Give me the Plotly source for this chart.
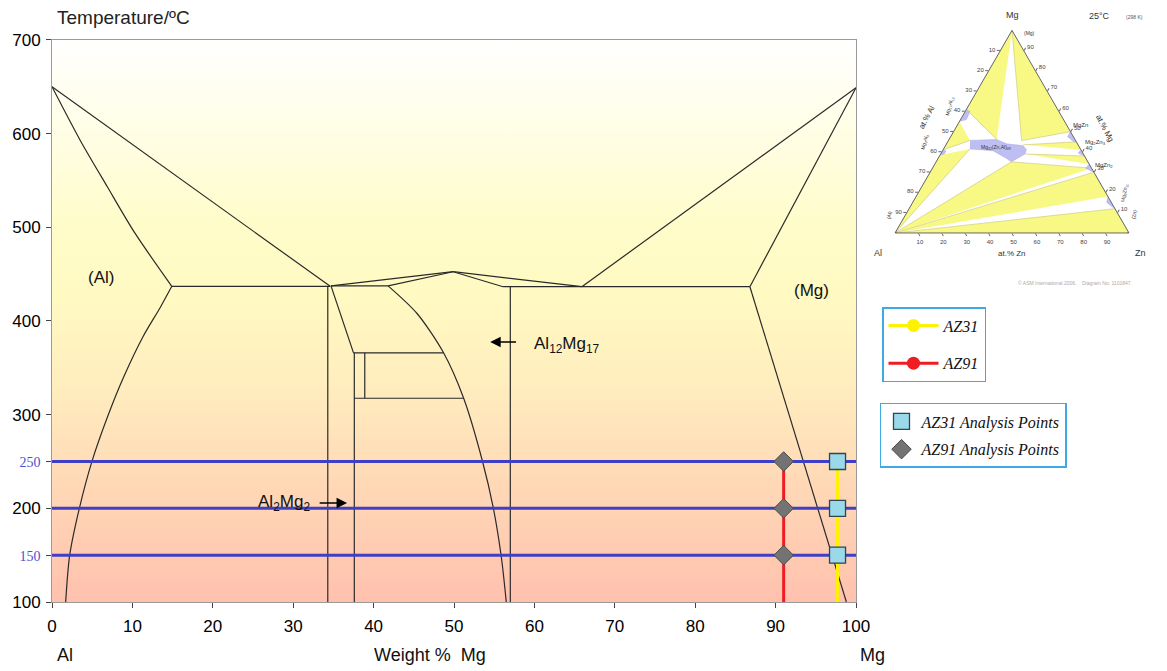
import plotly.graph_objects as go

# ---------------- main Al-Mg phase diagram data ----------------
x_range = [0, 100]
T_range = [100, 700]
x_ticks = [0, 10, 20, 30, 40, 50, 60, 70, 80, 90, 100]
T_ticks = [100, 150, 200, 250, 300, 400, 500, 600, 700]

liq_left_x = [0, 34.6]
liq_left_T = [650, 437]
sol_left_x = [0, 3.5, 6.9, 10.3, 14.9]
sol_left_T = [650, 593, 543, 494, 437]
solv_left_x = [14.9, 13.5, 11.3, 8.9, 7.05, 5.0, 3.4, 2.2, 1.7]
solv_left_T = [437, 415, 383, 340, 301, 251, 200, 150, 100]
eut_left_x = [14.9, 34.6]
eut_left_T = [437, 437]
beta_left_vert_x = [34.3, 34.3]
beta_left_vert_T = [437, 100]
beta_slope_x = [34.7, 37.5]
beta_slope_T = [437.5, 366]
beta_right_vert_x = [37.6, 37.6]
beta_right_vert_T = [366, 100]
iso366_x = [37.5, 48.7]
iso366_T = [366, 366]
inner_vert_x = [38.9, 38.9]
inner_vert_T = [366, 317.5]
iso318_x = [37.6, 51.2]
iso318_T = [317.5, 317.5]
perit_x = [34.7, 41.8]
perit_T = [437.5, 437.5]
liq_peak_a_x = [34.7, 49.9]
liq_peak_a_T = [437.5, 452.6]
liq_peak_b_x = [41.8, 49.9]
liq_peak_b_T = [437.5, 452.6]
gam_sol_x = [49.9, 56.1]
gam_sol_T = [452.6, 436.6]
liq_mid_x = [49.9, 65.9]
liq_mid_T = [452.6, 436.6]
gam_vert_x = [57.0, 57.0]
gam_vert_T = [436.6, 100]
eut_right_x = [56.1, 86.8]
eut_right_T = [436.6, 436.6]
gam_solv_x = [41.8, 45.4, 48.7, 51.2, 53.5, 54.9, 55.9, 56.5]
gam_solv_T = [437.5, 408, 366, 317.5, 251.6, 200, 147, 100]
liq_right_x = [65.9, 100]
liq_right_T = [436.6, 649]
sol_right_x = [86.8, 100]
sol_right_T = [436.6, 649]
solv_right_x = [86.8, 98.8]
solv_right_T = [436.6, 100]

straight_lines = [
    (liq_left_x, liq_left_T), (eut_left_x, eut_left_T), (beta_left_vert_x, beta_left_vert_T),
    (beta_slope_x, beta_slope_T), (beta_right_vert_x, beta_right_vert_T),
    (iso366_x, iso366_T), (inner_vert_x, inner_vert_T), (iso318_x, iso318_T),
    (perit_x, perit_T), (liq_peak_a_x, liq_peak_a_T), (liq_peak_b_x, liq_peak_b_T),
    (gam_sol_x, gam_sol_T), (liq_mid_x, liq_mid_T), (gam_vert_x, gam_vert_T),
    (eut_right_x, eut_right_T), (liq_right_x, liq_right_T), (sol_right_x, sol_right_T),
    (solv_right_x, solv_right_T),
]
curved_lines = [(sol_left_x, sol_left_T), (solv_left_x, solv_left_T), (gam_solv_x, gam_solv_T)]

isotherm_T = [150, 200, 250]
alloy_T = [100, 250]
analysis_T = [150, 200, 250]
az91_mg = 91.0
az31_mg = 97.7

# ---------------- ternary Al-Mg-Zn (25 C) data: (Mg, Al, Zn) at.% ----------------
yellow_regions = [
    [(100, 0, 0), (61, 39, 0), (46.2, 33.5, 20.3)],
    [(100, 0, 0), (45.6, 23.1, 31.3), (50, 0, 50)],
    [(43.5, 23.5, 33.0), (45, 0, 55), (41, 0, 59)],
    [(39.0, 25.0, 36.0), (38, 0, 62), (34, 0, 66)],
    [(0, 100, 0), (35.1, 32.7, 32.2), (32, 0, 68)],
    [(0, 100, 0), (30, 0, 70), (18, 0, 82)],
    [(0, 100, 0), (12, 0, 88), (0, 0, 100)],
    [(55, 45, 0), (41, 59, 0), (45.7, 45.1, 9.2)],
    [(38.5, 61.5, 0), (0, 100, 0), (41.5, 47.2, 11.3)],
]
phase_regions = [
    [(45.7, 45.1, 9.2), (46.2, 33.5, 20.3), (44.0, 30.3, 25.7), (43.1, 23.7, 33.2),
     (41.1, 23.3, 35.6), (39.0, 25.0, 36.0), (35.1, 32.7, 32.2), (36.8, 33.9, 29.3),
     (40.6, 37.8, 21.6), (41.5, 47.2, 11.3)],
    [(61, 39, 0), (60, 38, 2), (56, 41.5, 2.5), (55, 45, 0)],
    [(41, 59, 0), (40.5, 58, 1.5), (39, 59.5, 1.5), (38.5, 61.5, 0)],
    [(50, 0, 50), (47.5, 2.5, 50), (45, 1, 54), (45, 0, 55)],
    [(41, 0, 59), (39.5, 2, 58.5), (38, 0, 62)],
    [(34, 0, 66), (32, 2.5, 65.5), (30, 0, 70)],
    [(18, 0, 82), (15, 2, 83), (12, 0, 88)],
]
vertex_mg = [100, 0, 0]
vertex_al = [0, 100, 0]
vertex_zn = [0, 0, 100]
tern_ticks = [10, 20, 30, 40, 50, 60, 70, 80, 90]

# ---------------- figure ----------------
fig = go.Figure()

# plot-area gradient background
fig.add_trace(go.Scatter(
    x=[x_range[0], x_range[1], x_range[1], x_range[0], x_range[0]],
    y=[T_range[0], T_range[0], T_range[1], T_range[1], T_range[0]],
    mode='lines', line=dict(width=0), fill='toself', hoverinfo='skip', showlegend=False,
    fillgradient=dict(type='vertical', colorscale=[
        [0.0, '#FFC1AE'], [0.1, '#FFCCB2'], [0.25, '#FFDDB8'], [0.38, '#FFEDBE'],
        [0.55, '#FFFAC2'], [0.67, '#FFFCCA'], [0.83, '#FFFEE4'], [1.0, '#FFFFFF']])))

for lx, lT in straight_lines:
    fig.add_trace(go.Scatter(x=lx, y=lT, mode='lines', line=dict(color='#2a2a2a', width=1.2),
                             showlegend=False, hoverinfo='skip'))
for lx, lT in curved_lines:
    fig.add_trace(go.Scatter(x=lx, y=lT, mode='lines',
                             line=dict(color='#2a2a2a', width=1.2, shape='spline', smoothing=0.8),
                             showlegend=False, hoverinfo='skip'))

for T in isotherm_T:
    fig.add_trace(go.Scatter(x=x_range, y=[T, T], mode='lines', line=dict(color='#3F3FC6', width=3),
                             showlegend=False, hoverinfo='skip'))

fig.add_trace(go.Scatter(x=[az91_mg, az91_mg], y=alloy_T, mode='lines',
                         line=dict(color='#F01C24', width=3), showlegend=False))
fig.add_trace(go.Scatter(x=[az31_mg, az31_mg], y=alloy_T, mode='lines',
                         line=dict(color='#FFF200', width=3), showlegend=False))

fig.add_trace(go.Scatter(x=[az91_mg] * len(analysis_T), y=analysis_T, mode='markers',
                         marker=dict(symbol='diamond', size=15, color='#737373',
                                     line=dict(color='#4a4a4a', width=1)), showlegend=False))
fig.add_trace(go.Scatter(x=[az31_mg] * len(analysis_T), y=analysis_T, mode='markers',
                         marker=dict(symbol='square', size=16, color='#99D9EA',
                                     line=dict(color='#2d4650', width=1.3)), showlegend=False))

# legend entries
fig.add_trace(go.Scatter(x=[None], y=[None], mode='lines+markers', name='AZ31', legend='legend',
                         legendgroup='a', line=dict(color='#FFF200', width=3),
                         marker=dict(color='#FFF200', size=13)))
fig.add_trace(go.Scatter(x=[None], y=[None], mode='lines+markers', name='AZ91', legend='legend',
                         legendgroup='b', line=dict(color='#F01C24', width=3),
                         marker=dict(color='#F01C24', size=13)))
fig.add_trace(go.Scatter(x=[None], y=[None], mode='markers', name='AZ31 Analysis Points',
                         legend='legend2', legendgroup='c',
                         marker=dict(symbol='square', size=16, color='#99D9EA',
                                     line=dict(color='#2d4650', width=1.3))))
fig.add_trace(go.Scatter(x=[None], y=[None], mode='markers', name='AZ91 Analysis Points',
                         legend='legend2', legendgroup='d',
                         marker=dict(symbol='diamond', size=15, color='#737373',
                                     line=dict(color='#4a4a4a', width=1))))

# ternary inset
for poly in yellow_regions:
    fig.add_trace(go.Scatterternary(a=[p[0] for p in poly], b=[p[1] for p in poly],
                                    c=[p[2] for p in poly], mode='lines', fill='toself',
                                    fillcolor='#F8F884', line=dict(color='#C9C27A', width=0.6),
                                    showlegend=False, hoverinfo='skip'))
for poly in phase_regions:
    fig.add_trace(go.Scatterternary(a=[p[0] for p in poly], b=[p[1] for p in poly],
                                    c=[p[2] for p in poly], mode='lines', fill='toself',
                                    fillcolor='#BEBEF2', line=dict(color='#A8A8E6', width=0.5),
                                    showlegend=False, hoverinfo='skip'))
fig.add_trace(go.Scatterternary(a=[vertex_mg[0], vertex_al[0], vertex_zn[0]],
                                b=[vertex_mg[1], vertex_al[1], vertex_zn[1]],
                                c=[vertex_mg[2], vertex_al[2], vertex_zn[2]],
                                mode='markers', marker=dict(symbol='triangle-up', size=5, color='#E0202A'),
                                showlegend=False, hoverinfo='skip'))

tick_font = dict(family='Liberation Sans, Arial', size=17, color='black')
axis_common = dict(showgrid=False, zeroline=False, showline=True, linecolor='#9a9a9a', linewidth=1,
                   mirror=True, ticks='outside', tickcolor='#444', ticklen=5, tickfont=tick_font,
                   automargin=False)

small_blue = "<span style='font-family:Liberation Serif, Times New Roman;font-size:14px;fill:#4F4FD2'>%d</span>"
T_ticktext = [small_blue % t if t in (150, 250) else str(t) for t in T_ticks]

tern_font = dict(family='Liberation Sans, Arial', size=6, color='#444')
tern_axis = dict(showgrid=False, ticks='outside', ticklen=3, tickcolor='#666', linecolor='#666',
                 linewidth=1, tickfont=tern_font, tickvals=tern_ticks,
                 ticktext=[str(100 - v) for v in tern_ticks], title=dict(text=''))

legend_font = dict(family='Liberation Serif, Times New Roman', size=16, style='italic', color='#111')
fig.update_layout(
    width=1167, height=671, margin=dict(l=52, r=0, t=0, b=69),
    paper_bgcolor='white', plot_bgcolor='white',
    xaxis=dict(domain=[0, 0.7211], range=x_range, tickvals=x_ticks, ticklabelstandoff=4, **axis_common),
    yaxis=dict(domain=[0, 0.9336], range=T_range, tickvals=T_ticks, ticktext=T_ticktext,
               ticklabelstandoff=2, **axis_common),
    ternary=dict(domain=dict(x=[0.7561, 0.9659], y=[0.6130, 0.9495]), sum=100, bgcolor='white',
                 aaxis=tern_axis, baxis=tern_axis, caxis=tern_axis),
    legend=dict(x=0.7444, y=0.4900, xanchor='left', yanchor='top', bgcolor='white',
                bordercolor='#3DAAE3', borderwidth=1.5, itemwidth=50, tracegroupgap=14,
                font=legend_font),
    legend2=dict(x=0.7426, y=0.3306, xanchor='left', yanchor='top', bgcolor='white',
                 bordercolor='#3DAAE3', borderwidth=1.5, itemwidth=30, tracegroupgap=4,
                 font=legend_font),
)

sans = 'Liberation Sans, Arial'
ann = []
def add_text(text, x, y, size, xref='paper', yref='paper', xanchor='center', color='#111', angle=0, family=sans):
    ann.append(dict(text=text, x=x, y=y, xref=xref, yref=yref, xanchor=xanchor, yanchor='middle',
                    showarrow=False, textangle=angle, font=dict(family=family, size=size, color=color)))

# main chart texts
add_text('Temperature/ºC', 0.0027, 0.9701, 19, xanchor='left', color='#222')
add_text('Al', 0.0117, -0.0880, 18)
add_text('Weight %&nbsp;&nbsp;Mg', 0.3390, -0.0880, 18)
add_text('Mg', 0.7363, -0.0880, 18)
add_text('(Al)', 6.1, 446, 17, xref='x', yref='y')
add_text('(Mg)', 94.5, 433, 17, xref='x', yref='y')
add_text('Al<sub>12</sub>Mg<sub>17</sub>', 59.7, 374, 17, xref='x', yref='y', xanchor='left')
add_text('Al<sub>2</sub>Mg<sub>2</sub>', 32.3, 206, 17, xref='x', yref='y', xanchor='right')
ann.append(dict(x=54.5, y=377.6, ax=57.9, ay=377.6, xref='x', yref='y', axref='x', ayref='y', text='',
                showarrow=True, arrowhead=2, arrowsize=1.4, arrowwidth=1.5, arrowcolor='black'))
ann.append(dict(x=36.7, y=205.6, ax=33.1, ay=205.6, xref='x', yref='y', axref='x', ayref='y', text='',
                showarrow=True, arrowhead=2, arrowsize=1.4, arrowwidth=1.5, arrowcolor='black'))

# ternary texts
add_text('Mg', 0.8610, 0.9751, 9, color='#333')
add_text('Al', 0.7408, 0.5797, 9, color='#333')
add_text('Zn', 0.9758, 0.5797, 9, color='#333')
add_text('at.% Zn', 0.8610, 0.5797, 8, color='#333')
add_text('at.% Al', 0.7848, 0.8040, 8, color='#333', angle=-62)
add_text('at.% Mg', 0.9435, 0.7874, 8, color='#333', angle=62)
add_text('25°C', 0.9399, 0.9734, 9, color='#333')
add_text('(298 K)', 0.9713, 0.9718, 5, color='#555')
add_text('(Mg)', 0.8771, 0.9452, 5, color='#333')
add_text('Mg<sub>17</sub>Al<sub>12</sub>', 0.8054, 0.8223, 5, color='#333', angle=-75)
add_text('Mg<sub>2</sub>Al<sub>3</sub>', 0.7830, 0.7625, 5, color='#333', angle=-75)
add_text('(Al)', 0.7507, 0.6429, 5, color='#333', angle=-80)
add_text('Mg<sub>32</sub>(Zn,Al)<sub>49</sub>', 0.8466, 0.7558, 5, color='#333')
add_text('MgZn', 0.9220, 0.7924, 6, color='#333')
add_text('Mg<sub>2</sub>Zn<sub>3</sub>', 0.9363, 0.7641, 6, color='#333')
add_text('MgZn<sub>2</sub>', 0.9435, 0.7259, 6, color='#333')
add_text('Mg<sub>2</sub>Zn<sub>11</sub>', 0.9614, 0.6794, 5, color='#333', angle=-80)
add_text('(Zn)', 0.9704, 0.6445, 5, color='#333', angle=-80)
add_text('© ASM International 2006.&nbsp;&nbsp;&nbsp;&nbsp;Diagram No. 1101847.', 0.9175, 0.5299, 5, color='#aaa')

fig.update_layout(annotations=ann)
fig.write_html('out.html')
